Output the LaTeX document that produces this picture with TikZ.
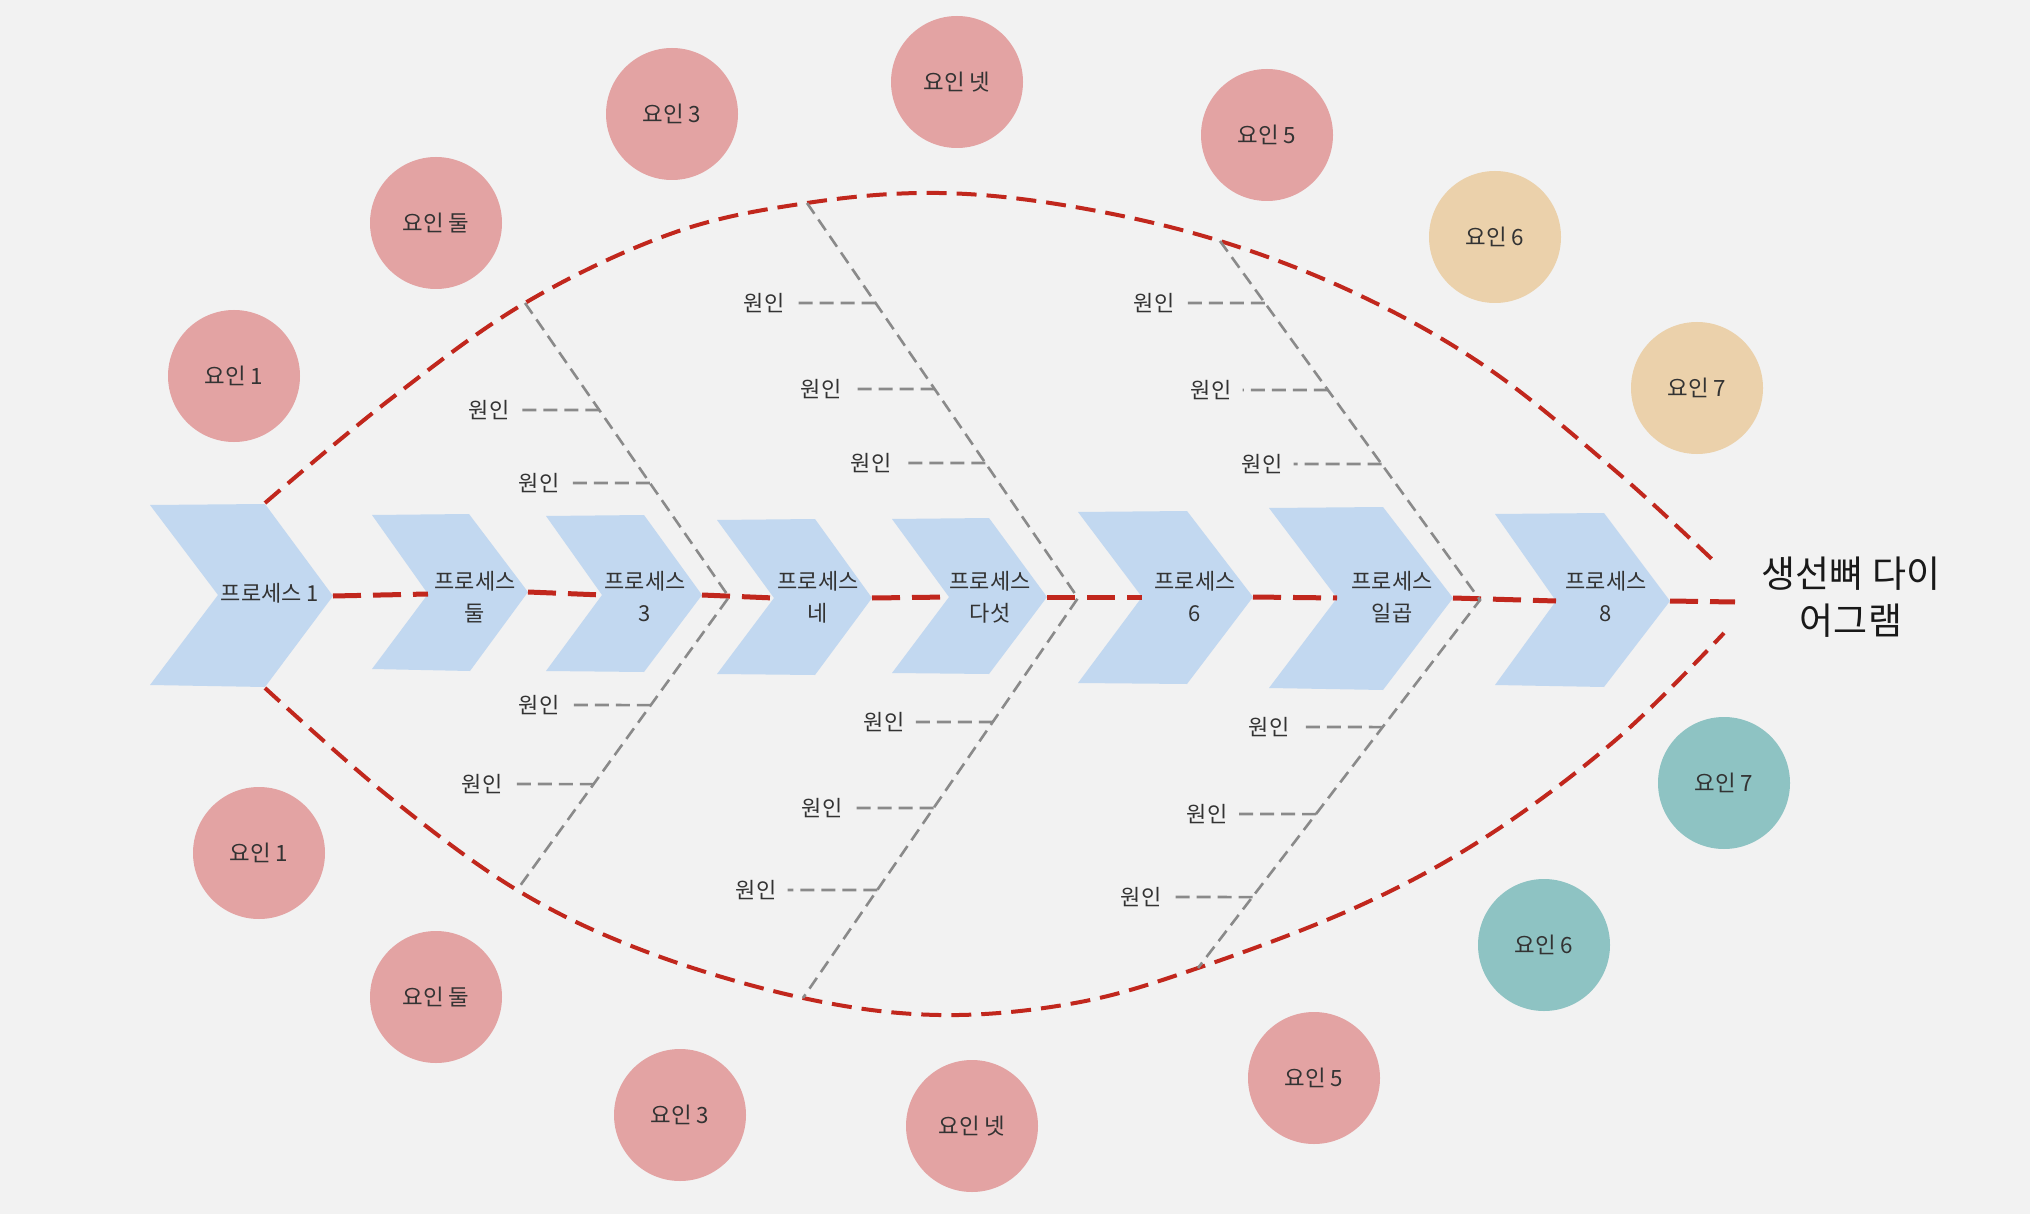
\documentclass[tikz,border=0pt]{standalone}
\usepackage{fontspec}
\setmainfont{Noto Sans CJK KR}
\definecolor{bgc}{HTML}{F2F2F2}
\definecolor{pinkc}{HTML}{E3A3A3}
\definecolor{tanc}{HTML}{EBD1AB}
\definecolor{tealc}{HTML}{8EC3C3}
\definecolor{chevc}{HTML}{C2D8F0}
\definecolor{redc}{HTML}{C1271D}
\definecolor{grayc}{HTML}{8A8A8A}
\definecolor{txtc}{HTML}{333333}
\begin{document}
\begin{tikzpicture}[x=0.5pt,y=-0.5pt,
  chev/.style={fill=chevc},
  spine/.style={draw=redc,line width=2.5pt,dash pattern=on 14pt off 6pt},
  outline/.style={draw=redc,line width=2pt,dash pattern=on 10pt off 5pt},
  bone/.style={draw=grayc,line width=1.3pt,dash pattern=on 6.5pt off 3.5pt},
  rib/.style={draw=grayc,line width=1.3pt,dash pattern=on 7pt off 3.5pt},
  cause/.style={text=txtc,font=\fontsize{11}{13}\selectfont,inner xsep=5.5pt,inner ysep=0pt},
  proc/.style={text=txtc,font=\fontsize{11}{16}\selectfont,align=center,inner sep=0pt},
  factor/.style={circle,minimum size=66pt,inner sep=0pt,text=txtc,font=\fontsize{11.2}{13}\selectfont},
  pinkf/.style={factor,fill=pinkc},
  tanf/.style={factor,fill=tanc},
  tealf/.style={factor,fill=tealc}]
\useasboundingbox (0,0) rectangle (2030,1214);
\fill[bgc] (0,0) rectangle (2030,1214);

% outer outline curves
\draw[outline] plot[smooth,tension=0.6] coordinates {(265,503) (388,401) (525,303) (673,233) (807,203) (939,193) (1075,207) (1220,241) (1359,295) (1489,369) (1618,473) (1718,565)};
\draw[outline] plot[smooth,tension=0.6] coordinates {(265,688) (388,796) (517,890) (647,952) (803,998) (939,1015) (1075,1003) (1198,968) (1359,906) (1489,835) (1618,738) (1724,633)};

% chevrons
\fill[chev] (150,505) -- (265,504) -- (333,596) -- (265,687) -- (150,685) -- (218,595) -- cycle;
\fill[chev] (372,515) -- (469,514) -- (528,592) -- (470,671) -- (372,669) -- (428,594) -- cycle;
\fill[chev] (546,516) -- (644,515) -- (702,595) -- (644,672) -- (546,671) -- (602,595) -- cycle;
\fill[chev] (717,520) -- (815,519) -- (872,598) -- (815,675) -- (717,674) -- (774,598) -- cycle;
\fill[chev] (892,519) -- (989,518) -- (1047,597) -- (989,674) -- (892,673) -- (949,597) -- cycle;
\fill[chev] (1078,512) -- (1187,511) -- (1253,597) -- (1187,684) -- (1078,683) -- (1142,597) -- cycle;
\fill[chev] (1269,508) -- (1383,507) -- (1453,598) -- (1383,690) -- (1269,688) -- (1337,598) -- cycle;
\fill[chev] (1495,514) -- (1604,513) -- (1670,601) -- (1604,687) -- (1495,685) -- (1556,601) -- cycle;

\coordinate (c1tip) at (333,596);
\coordinate (c2notch) at (428,594); \coordinate (c2tip) at (528,592);
\coordinate (c3notch) at (602,595); \coordinate (c3tip) at (702,595);
\coordinate (c4notch) at (774,598); \coordinate (c4tip) at (872,598);
\coordinate (c5notch) at (949,597); \coordinate (c5tip) at (1047,597);
\coordinate (c6notch) at (1142,597); \coordinate (c6tip) at (1253,597);
\coordinate (c7notch) at (1337,598); \coordinate (c7tip) at (1453,598);
\coordinate (c8notch) at (1556,601); \coordinate (c8tip) at (1670,601);
\coordinate (spend) at (1735,602);

% spine
\draw[spine] (c1tip) -- (c2notch);
\draw[spine] (c2tip) -- (c3notch);
\draw[spine] (c3tip) -- (c4notch);
\draw[spine] (c4tip) -- (c5notch);
\draw[spine] (c5tip) -- (c6notch);
\draw[spine] (c6tip) -- (c7notch);
\draw[spine] (c7tip) -- (c8notch);
\draw[spine] (c8tip) -- (spend);

% bones
\coordinate (bAu) at (525,303); \coordinate (bAv) at (729,597); \coordinate (bAl) at (517,890);
\coordinate (bBu) at (807,203); \coordinate (bBv) at (1078,598); \coordinate (bBl) at (803,998);
\coordinate (bCu) at (1220,241); \coordinate (bCv) at (1480,600); \coordinate (bCl) at (1198,968);
\draw[bone] (bAu) -- (bAv) -- (bAl);
\draw[bone] (bBu) -- (bBv) -- (bBl);
\draw[bone] (bCu) -- (bCv) -- (bCl);

% process labels
\node[proc] (p1) at (270,593) {프로세스 1};
\node[proc] (p2) at (475,597) {프로세스\\둘};
\node[proc] (p3) at (645,597) {프로세스\\3};
\node[proc] (p4) at (818,597) {프로세스\\네};
\node[proc] (p5) at (990,597) {프로세스\\다섯};
\node[proc] (p6) at (1195,597) {프로세스\\6};
\node[proc] (p7) at (1392,597) {프로세스\\일곱};
\node[proc] (p8) at (1606,597) {프로세스\\8};

\node[text=black!90,font=\fontsize{18.5}{23.5}\selectfont,align=center,inner sep=0pt] (title) at (1851,597) {생선뼈 다이\\어그램};

% causes
\node[cause] (rA1) at (489,410) {원인};
\node[cause] (rA2) at (539,483) {원인};
\node[cause] (rA3) at (539,705) {원인};
\node[cause] (rA4) at (482,784) {원인};
\node[cause] (rB1) at (764,303) {원인};
\node[cause] (rB2) at (821,389) {원인};
\node[cause] (rB3) at (871,463) {원인};
\node[cause] (rB4) at (884,722) {원인};
\node[cause] (rB5) at (822,808) {원인};
\node[cause] (rB6) at (756,890) {원인};
\node[cause] (rC1) at (1154,303) {원인};
\node[cause] (rC2) at (1211,390) {원인};
\node[cause] (rC3) at (1262,464) {원인};
\node[cause] (rC4) at (1269,727) {원인};
\node[cause] (rC5) at (1207,814) {원인};
\node[cause] (rC6) at (1141,897) {원인};

\draw[rib] (intersection of bAu--bAv and rA1.west--rA1.east) -- (rA1.east);
\draw[rib] (intersection of bAu--bAv and rA2.west--rA2.east) -- (rA2.east);
\draw[rib] (intersection of bAv--bAl and rA3.west--rA3.east) -- (rA3.east);
\draw[rib] (intersection of bAv--bAl and rA4.west--rA4.east) -- (rA4.east);
\draw[rib] (intersection of bBu--bBv and rB1.west--rB1.east) -- (rB1.east);
\draw[rib] (intersection of bBu--bBv and rB2.west--rB2.east) -- (rB2.east);
\draw[rib] (intersection of bBu--bBv and rB3.west--rB3.east) -- (rB3.east);
\draw[rib] (intersection of bBv--bBl and rB4.west--rB4.east) -- (rB4.east);
\draw[rib] (intersection of bBv--bBl and rB5.west--rB5.east) -- (rB5.east);
\draw[rib] (intersection of bBv--bBl and rB6.west--rB6.east) -- (rB6.east);
\draw[rib] (intersection of bCu--bCv and rC1.west--rC1.east) -- (rC1.east);
\draw[rib] (intersection of bCu--bCv and rC2.west--rC2.east) -- (rC2.east);
\draw[rib] (intersection of bCu--bCv and rC3.west--rC3.east) -- (rC3.east);
\draw[rib] (intersection of bCv--bCl and rC4.west--rC4.east) -- (rC4.east);
\draw[rib] (intersection of bCv--bCl and rC5.west--rC5.east) -- (rC5.east);
\draw[rib] (intersection of bCv--bCl and rC6.west--rC6.east) -- (rC6.east);

% factors
\node[pinkf] (fu1) at (234,376) {요인 1};
\node[pinkf] (fu2) at (436,223) {요인 둘};
\node[pinkf] (fu3) at (672,114) {요인 3};
\node[pinkf] (fu4) at (957,82) {요인 넷};
\node[pinkf] (fu5) at (1267,135) {요인 5};
\node[tanf] (fu6) at (1495,237) {요인 6};
\node[tanf] (fu7) at (1697,388) {요인 7};
\node[pinkf] (fl1) at (259,853) {요인 1};
\node[pinkf] (fl2) at (436,997) {요인 둘};
\node[pinkf] (fl3) at (680,1115) {요인 3};
\node[pinkf] (fl4) at (972,1126) {요인 넷};
\node[pinkf] (fl5) at (1314,1078) {요인 5};
\node[tealf] (fl6) at (1544,945) {요인 6};
\node[tealf] (fl7) at (1724,783) {요인 7};
\end{tikzpicture}
\end{document}
